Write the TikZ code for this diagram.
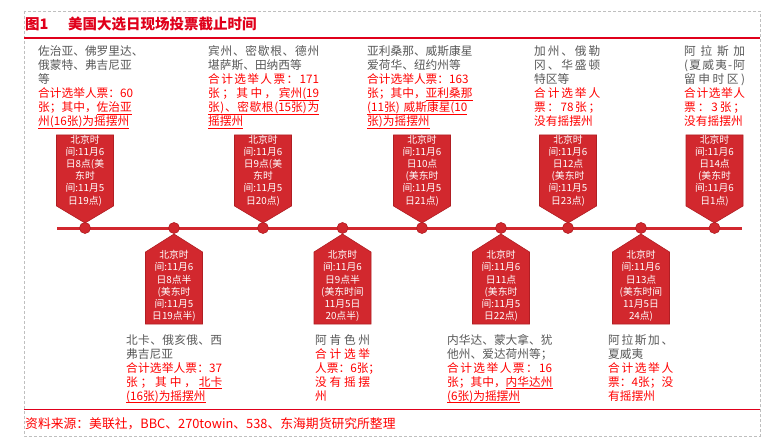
\documentclass[tikz,border=0pt]{standalone}
\usepackage{fontspec}
\setmainfont{Noto Sans CJK SC}
\usepackage{xcolor}
\definecolor{tgray}{HTML}{595959}
\definecolor{tred}{HTML}{FF0000}
\definecolor{cfill}{HTML}{D2282E}
\definecolor{cdraw}{HTML}{B01E23}
\definecolor{ttl}{HTML}{E0001B}
\definecolor{framec}{HTML}{BFBFBF}
\newcommand{\uln}[1]{\leavevmode\setbox0\hbox{#1}\rlap{\rule[-2.6pt]{\wd0}{0.75pt}}\box0}
\def\jsend{JSENDMARK}
\newcommand{\js}[2]{\makebox[#1pt][s]{\jsloop#2\jsend}}
\def\jsloop#1{\ifx\jsend#1\unskip\else#1\hfil\expandafter\jsloop\fi}
\newcommand{\topcall}[3]{%
  \draw[callout] (#1-28.5,135) -- (#1+28.5,135) -- (#1+28.5,206) -- (#1,223) -- (#1-28.5,206) -- cycle;
  \node[calltext] (#2) at (#1,170.5) {#3};}
\newcommand{\botcall}[3]{%
  \draw[callout] (#1,234) -- (#1+28.5,252) -- (#1+28.5,324) -- (#1-28.5,324) -- (#1-28.5,252) -- cycle;
  \node[calltext] (#2) at (#1,286) {#3};}
\tikzset{
  blk/.style={anchor=base west, inner sep=0pt, text width=130pt, align=left, font=\fontsize{11.7}{14}\selectfont},
  calltext/.style={text=white, align=center, inner sep=0pt, font=\fontsize{9.8}{12.2}\selectfont},
  callout/.style={fill=cfill, draw=cdraw, line width=0.6pt},
  dot/.style={circle, fill=cfill, draw=cdraw, line width=0.6pt, minimum size=11pt, inner sep=0pt},
  tline/.style={draw=cfill, line width=3pt},
}
\begin{document}
\begin{tikzpicture}[x=1pt,y=-1pt]
\useasboundingbox (0,0) rectangle (766,441);
\fill[white] (0,0) rectangle (766,441);
\draw[framec, line width=0.6pt, dash pattern=on 3pt off 2pt] (24,11) rectangle (760,436);
% title
\node[anchor=base west, inner sep=0pt, text=ttl, font=\fontsize{14.5}{16}\selectfont\bfseries] (title) at (25,29.5) {图1\hspace{19.5pt}美国大选日现场投票截止时间};
\draw[ttl, line width=1.2pt] (24,38) -- (760,38);
% timeline
\coordinate (tl0) at (57,228);
\coordinate (tl1) at (742,228);
\draw[tline] (tl0) -- (tl1);
% callouts
\topcall{85}{c1}{北京时\\间:11月6\\日8点(美\\东时\\间:11月5\\日19点)}
\botcall{174}{c2}{北京时\\间:11月6\\日8点半\\(美东时\\间:11月5\\日19点半)}
\topcall{263}{c3}{北京时\\间:11月6\\日9点(美\\东时\\间:11月5\\日20点)}
\botcall{342.5}{c4}{北京时\\间:11月6\\日9点半\\(美东时间\\11月5日\\20点半)}
\topcall{422}{c5}{北京时\\间:11月6\\日10点\\(美东时\\间:11月5\\日21点)}
\botcall{501}{c6}{北京时\\间:11月6\\日11点\\(美东时\\间:11月5\\日22点)}
\topcall{568}{c7}{北京时\\间:11月6\\日12点\\(美东时\\间:11月5\\日23点)}
\botcall{641}{c8}{北京时\\间:11月6\\日13点\\(美东时间\\11月5日\\24点)}
\topcall{714.5}{c9}{北京时\\间:11月6\\日14点\\(美东时\\间:11月6\\日1点)}
% dots
\node[dot] (d1) at (85,228) {};
\node[dot] (d2) at (174,228) {};
\node[dot] (d3) at (263,228) {};
\node[dot] (d4) at (342.5,228) {};
\node[dot] (d5) at (422,228) {};
\node[dot] (d6) at (501,228) {};
\node[dot] (d7) at (568,228) {};
\node[dot] (d8) at (641,228) {};
\node[dot] (d9) at (714.5,228) {};
% top text blocks
\node[blk] (b1) at (38,56) {\color{tgray}佐治亚、佛罗里达、\\俄蒙特、弗吉尼亚\\等\\
\color{tred}合计选举人票：60\\张；其中，\uln{佐治亚}\\\uln{州(16张)为摇摆州}};
\node[blk] (b2) at (208,56) {\color{tgray}\js{111}{宾州、密歇根、德州}\\堪萨斯、田纳西等\\
\color{tred}\js{111}{合计选举人票：{171}}\\\js{111}{张；其中，{\uln{宾州(19}}}\\\uln{\js{111}{张){、}密歇根{(15张)}为}}\\\uln{摇摆州}};
\node[blk] (b3) at (367,56) {\color{tgray}亚利桑那、威斯康星\\爱荷华、纽约州等\\
\color{tred}合计选举人票：163\\张；其中，\uln{亚利桑那}\\\uln{(11张) 威斯康星(10}\\\uln{张)为摇摆州}};
\node[blk] (b4) at (534,56) {\color{tgray}\js{66}{加州、俄勒}\\\js{66}{冈、华盛顿}\\特区等\\
\color{tred}\js{66}{合计选举人}\\\js{66}{票：{78}张；}\\没有摇摆州};
\node[blk] (b5) at (684,56) {\color{tgray}\js{61}{阿拉斯加}\\\js{61}{(夏威夷-阿}\\\js{61}{留申时区)}\\
\color{tred}\js{61}{合计选举人}\\\js{61}{票：3张；}\\没有摇摆州};
% bottom text blocks
\node[blk] (b6) at (126,344.4) {\color{tgray}\js{96}{北卡、俄亥俄、西}\\弗吉尼亚\\
\color{tred}\js{96}{合计选举人票：{37}}\\\js{96}{张；其中，{\uln{北卡}}}\\\uln{(16张)为摇摆州}};
\node[blk] (b7) at (315,344.4) {\color{tgray}\js{55}{阿肯色州}\\
\color{tred}\js{55}{合计选举}\\人票：6张；\\\js{55}{没有摇摆}\\州};
\node[blk] (b8) at (447,344.4) {\color{tgray}内华达、蒙大拿、犹\\他州、爱达荷州等；\\
\color{tred}\js{105}{合计选举人票：{16}}\\张；其中，\uln{内华达州}\\\uln{(6张)为摇摆州}};
\node[blk] (b9) at (608,344.4) {\color{tgray}\js{65}{阿拉斯加、}\\夏威夷\\
\color{tred}\js{65}{合计选举人}\\\js{65}{票：4张；没}\\有摇摆州};
% source
\draw[ttl, line width=1pt] (24,409) -- (760,409);
\node[anchor=base west, inner sep=0pt, text=tred, font=\fontsize{12.8}{14}\selectfont] (src) at (25,428) {资料来源：美联社，BBC、270towin、538、东海期货研究所整理};
\end{tikzpicture}
\end{document}
